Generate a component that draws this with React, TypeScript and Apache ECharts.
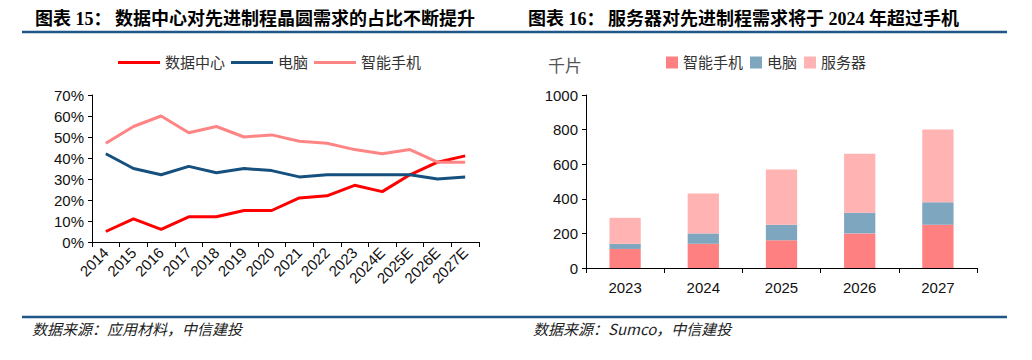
import React, { useEffect, useRef } from "react";
import * as echarts from "echarts";

const lineCategories = ["2014", "2015", "2016", "2017", "2018", "2019", "2020", "2021", "2022", "2023", "2024E", "2025E", "2026E", "2027E"];
const dataCenterShare = [5, 11, 6, 12, 12, 15, 15, 21, 22, 27, 24, 32, 38, 41];
const pcShare = [42, 35, 32, 36, 33, 35, 34, 31, 32, 32, 32, 32, 30, 31];
const phoneShare = [47, 55, 60, 52, 55, 50, 51, 48, 47, 44, 42, 44, 38, 38];

const barCategories = ["2023", "2024", "2025", "2026", "2027"];
const phoneWafers = [110, 140, 160, 200, 250];
const pcWafers = [30, 60, 90, 120, 130];
const serverWafers = [150, 230, 320, 340, 420];

const titleLeftPrefix = "图表 15：";
const titleLeft = "数据中心对先进制程晶圆需求的占比不断提升";
const titleRightPrefix = "图表 16：";
const titleRight = "服务器对先进制程需求将于 2024 年超过手机";
const sourceLeft = "数据来源：应用材料，中信建投";
const sourceRight = "数据来源：Sumco，中信建投";

const FONT = "'Liberation Sans', Arial, 'Noto Sans CJK SC', sans-serif";
const TITLE_FONT = "'Liberation Serif', 'Noto Sans CJK SC', serif";

export default function App() {
  const ref = useRef<HTMLDivElement>(null);
  useEffect(() => {
    document.body.style.margin = "0";
    if (!ref.current) return;
    const chart = echarts.init(ref.current, null, { renderer: "svg" });
    const axisLine = { show: true, lineStyle: { color: "#000", width: 1 } };
    const axisLabel = { color: "#111", fontSize: 15, fontFamily: FONT };
    chart.setOption({
      animation: false,
      backgroundColor: "#fff",
      textStyle: { fontFamily: FONT },
      grid: [
        { left: 92, right: 553, top: 95, bottom: 118, containLabel: false },
        { left: 586, right: 55, top: 95, bottom: 92, containLabel: false },
      ],
      legend: [
        {
          data: ["数据中心", "电脑", "智能手机"],
          left: 113,
          top: 50,
          icon: "rect",
          itemWidth: 42,
          itemHeight: 3,
          itemGap: 6,
          textStyle: { fontSize: 15, color: "#333", fontFamily: FONT },
        },
        {
          data: ["智能手机2", "电脑2", "服务器"],
          left: 661,
          top: 50,
          itemWidth: 12,
          itemHeight: 12,
          itemGap: 7,
          icon: "rect",
          formatter: (n: string) => n.replace("2", ""),
          textStyle: { fontSize: 15, color: "#333", fontFamily: FONT },
        },
      ],
      xAxis: [
        {
          type: "category",
          gridIndex: 0,
          data: lineCategories,
          boundaryGap: true,
          axisLine,
          axisTick: { show: true, length: 5, lineStyle: { color: "#000" } },
          axisLabel: { ...axisLabel, fontSize: 15, rotate: 45, interval: 0, margin: 8 },
        },
        {
          type: "category",
          gridIndex: 1,
          data: barCategories,
          boundaryGap: true,
          axisLine,
          axisTick: { show: true, length: 5, lineStyle: { color: "#000" } },
          axisLabel: { ...axisLabel, margin: 12 },
        },
      ],
      yAxis: [
        {
          type: "value",
          gridIndex: 0,
          min: 0,
          max: 70,
          interval: 10,
          axisLine,
          axisTick: { show: true, length: 4, lineStyle: { color: "#000" } },
          splitLine: { show: false },
          axisLabel: { ...axisLabel, formatter: "{value}%", margin: 8 },
        },
        {
          type: "value",
          gridIndex: 1,
          min: 0,
          max: 1000,
          interval: 200,
          axisLine,
          axisTick: { show: true, length: 4, lineStyle: { color: "#000" } },
          splitLine: { show: false },
          axisLabel: { ...axisLabel, formatter: (v: number) => String(v), margin: 8 },
        },
      ],
      series: [
        {
          name: "数据中心",
          type: "line",
          xAxisIndex: 0,
          yAxisIndex: 0,
          data: dataCenterShare,
          symbol: "none",
          lineStyle: { color: "#FF0000", width: 3 },
          itemStyle: { color: "#FF0000" },
        },
        {
          name: "电脑",
          type: "line",
          xAxisIndex: 0,
          yAxisIndex: 0,
          data: pcShare,
          symbol: "none",
          lineStyle: { color: "#15507E", width: 3 },
          itemStyle: { color: "#15507E" },
        },
        {
          name: "智能手机",
          type: "line",
          xAxisIndex: 0,
          yAxisIndex: 0,
          data: phoneShare,
          symbol: "none",
          lineStyle: { color: "#FF8585", width: 3 },
          itemStyle: { color: "#FF8585" },
        },
        {
          name: "智能手机2",
          type: "bar",
          xAxisIndex: 1,
          yAxisIndex: 1,
          stack: "wafer",
          barWidth: "40%",
          data: phoneWafers,
          itemStyle: { color: "#FF8080" },
        },
        {
          name: "电脑2",
          type: "bar",
          xAxisIndex: 1,
          yAxisIndex: 1,
          stack: "wafer",
          barWidth: "40%",
          data: pcWafers,
          itemStyle: { color: "#7FA6BF" },
        },
        {
          name: "服务器",
          type: "bar",
          xAxisIndex: 1,
          yAxisIndex: 1,
          stack: "wafer",
          barWidth: "40%",
          data: serverWafers,
          itemStyle: { color: "#FFB3B3" },
        },
      ],
      graphic: [
        {
          type: "text",
          left: 35,
          top: 10,
          style: { text: titleLeftPrefix, font: `bold 18px ${TITLE_FONT}`, fill: "#000" },
        },
        {
          type: "text",
          left: 115,
          top: 10,
          style: { text: titleLeft, font: `bold 18px ${TITLE_FONT}`, fill: "#000" },
        },
        {
          type: "text",
          left: 528,
          top: 10,
          style: { text: titleRightPrefix, font: `bold 18px ${TITLE_FONT}`, fill: "#000" },
        },
        {
          type: "text",
          left: 608,
          top: 10,
          style: { text: titleRight, font: `bold 18px ${TITLE_FONT}`, fill: "#000" },
        },
        {
          type: "line",
          shape: { x1: 22, y1: 32, x2: 1007, y2: 32 },
          style: { stroke: "#1F5687", lineWidth: 2.5 },
        },
        {
          type: "line",
          shape: { x1: 22, y1: 317, x2: 1007, y2: 317 },
          style: { stroke: "#1F5687", lineWidth: 2.5 },
        },
        {
          type: "text",
          left: 32,
          top: 321,
          style: { text: sourceLeft, font: `italic 15px 'Noto Sans CJK SC', sans-serif`, fill: "#222" },
        },
        {
          type: "text",
          left: 533,
          top: 321,
          style: { text: sourceRight, font: `italic 15px 'Noto Sans CJK SC', sans-serif`, fill: "#222" },
        },
        {
          type: "text",
          left: 548,
          top: 58,
          style: { text: "千片", font: `17px ${FONT}`, fill: "#555" },
        },
      ],
    });
    return () => chart.dispose();
  }, []);
  return <div ref={ref} style={{ width: 1032, height: 360 }} />;
}
